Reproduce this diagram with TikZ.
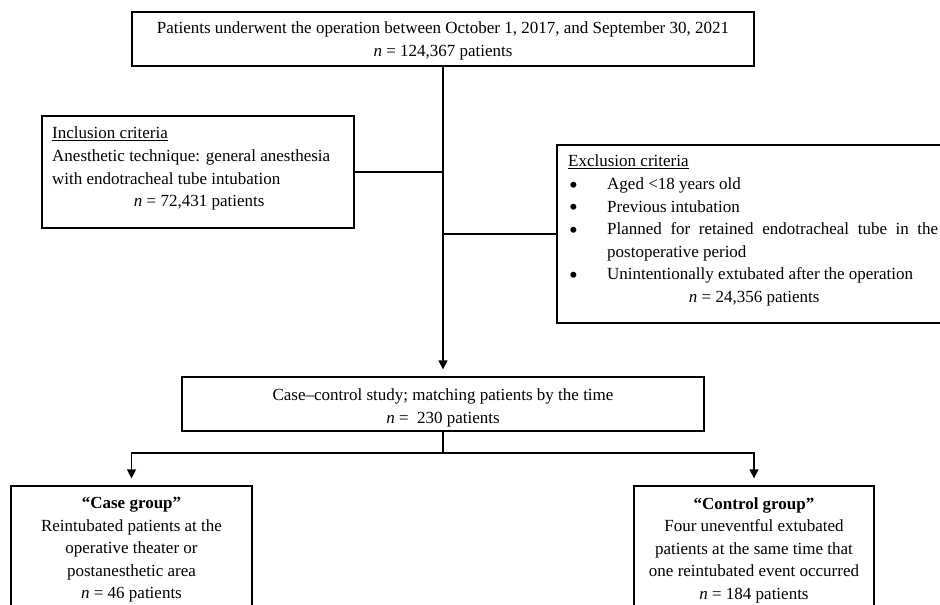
\documentclass[tikz,border=0pt]{standalone}
\usepackage{fontspec}
\setmainfont{Liberation Serif}
\usetikzlibrary{arrows.meta}
\newcommand{\bigbul}{\makebox[39pt][l]{\hspace*{1pt}\smash{\raisebox{-3.5pt}{\fontsize{25}{22.6}\selectfont •}}}}
\begin{document}
\begin{tikzpicture}[x=1pt,y=-1pt,
  font=\fontsize{17}{22.6}\selectfont,
  box/.style={draw, line width=1.3pt, inner sep=0pt},
  txt/.style={inner sep=0pt},
  link/.style={line width=1.3pt},
  arr/.style={line width=1.3pt, -{Triangle[length=9pt,width=9pt]}, shorten >=7pt}]
\useasboundingbox (0,0) rectangle (940,605);
\clip (0,0) rectangle (940,605);
% top box
\node[box, minimum width=622pt, minimum height=54pt] (top) at (443,39) {};
\node[txt, anchor=north, align=center] (toptext) at (443,22)
  {Patients underwent the operation between October 1, 2017, and September 30, 2021\\\textit{n} = 124,367 patients};
% inclusion
\node[box, minimum width=312pt, minimum height=112pt] (inc) at (198,172) {};
\node[txt, anchor=north west, align=left] (inctext) at (52,127)
  {\underline{Inclusion criteria}\\\makebox[278pt][s]{Anesthetic technique: general anesthesia}\\with endotracheal tube intubation\\\makebox[294pt]{\textit{n} = 72,431 patients}};
% exclusion
\node[box, minimum width=403pt, minimum height=178pt] (exc) at (758.5,234) {};
\node[txt, anchor=north west, align=left] (exctext) at (568,155)
  {\underline{Exclusion criteria}\\
   \bigbul Aged <18 years old\\
   \bigbul Previous intubation\\
   \bigbul\makebox[331pt][s]{Planned for retained endotracheal tube in the}\\
   \hspace*{39pt}postoperative period\\
   \bigbul Unintentionally extubated after the operation\\
   \makebox[372pt]{\textit{n} = 24,356 patients}};
% middle box
\node[box, minimum width=522pt, minimum height=54pt] (mid) at (443,404) {};
\node[txt, anchor=north, align=center] (midtext) at (443,389)
  {Case--control study; matching patients by the time\\\textit{n} = \ 230 patients};
% case / control
\node[box, minimum width=241pt, minimum height=134pt] (case) at (131.5,553) {};
\node[txt, anchor=north, align=center] (casetext) at (131.5,497)
  {\textbf{“Case group”}\\Reintubated patients at the\\operative theater or\\postanesthetic area\\\textit{n} = 46 patients};
\node[box, minimum width=240pt, minimum height=134pt] (ctrl) at (754,553) {};
\node[txt, anchor=north, align=center] (ctrltext) at (754,497)
  {\textbf{“Control group”}\\Four uneventful extubated\\patients at the same time that\\one reintubated event occurred\\\textit{n} = 184 patients};
% connectors
\draw[arr] (top.south) -- (mid.north);
\draw[link] (inc.east) -- (inc.east -| top.south);
\draw[link] (exc.west) -- (exc.west -| top.south);
\coordinate (split) at (443,453);
\draw[link] (mid.south) -- (split);
\draw[arr] (split) -| (case.north);
\draw[arr] (split) -| (ctrl.north);
\end{tikzpicture}
\end{document}
